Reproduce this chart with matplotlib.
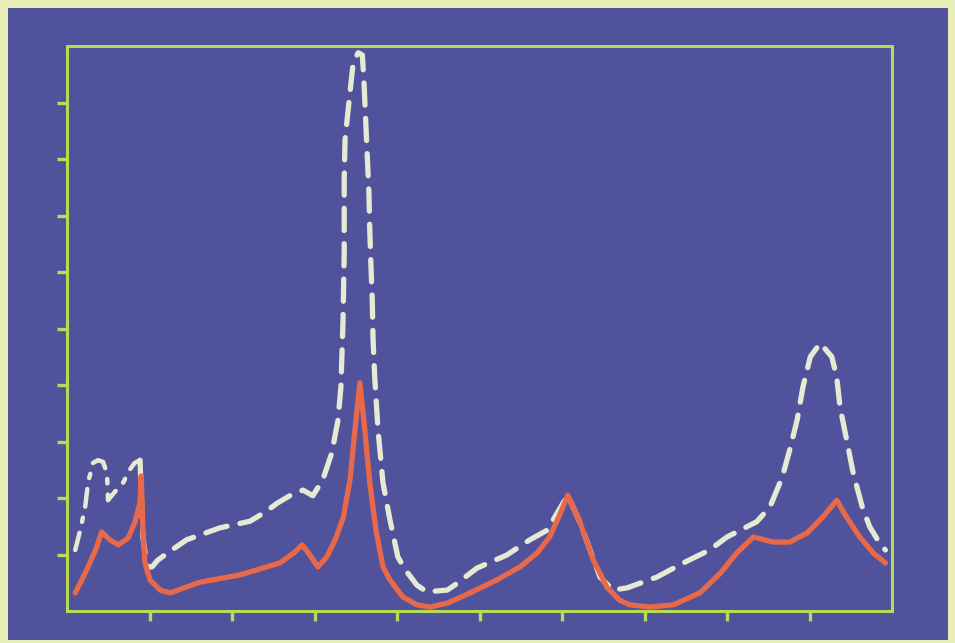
import numpy as np
import matplotlib
matplotlib.use("Agg")
import matplotlib.pyplot as plt
from matplotlib.patches import Rectangle

# readings taken off the hand-drawn chart (x in tick units, y in tick units)
orange_x = [0.10, 0.24, 0.36, 0.42, 0.52, 0.62, 0.74, 0.82, 0.885, 0.90, 0.92, 0.945, 1.006,
            1.13, 1.25, 1.61, 2.10, 2.58, 2.76, 2.85, 2.945, 3.04, 3.15, 3.25, 3.35, 3.43,
            3.49, 3.55, 3.61, 3.67, 3.745, 3.83, 3.915, 4.07, 4.24, 4.40, 4.61, 4.885, 5.21,
            5.49, 5.70, 5.85, 5.98, 6.07, 6.22, 6.38, 6.545, 6.70, 6.82, 7.07, 7.35, 7.67,
            7.92, 8.12, 8.32, 8.56, 8.76, 8.97, 9.16, 9.33, 9.45, 9.61, 9.77, 9.92]
orange_y = [0.32, 0.73, 1.13, 1.40, 1.26, 1.17, 1.29, 1.56, 1.91, 2.39, 1.43, 0.85, 0.55,
            0.37, 0.32, 0.51, 0.64, 0.85, 1.04, 1.17, 0.99, 0.78, 0.96, 1.26, 1.66, 2.32,
            3.20, 4.04, 3.20, 2.27, 1.43, 0.78, 0.55, 0.25, 0.11, 0.07, 0.14, 0.32, 0.55,
            0.78, 1.03, 1.31, 1.73, 2.05, 1.56, 0.90, 0.42, 0.19, 0.11, 0.07, 0.11, 0.32,
            0.67, 1.03, 1.31, 1.22, 1.22, 1.38, 1.66, 1.96, 1.66, 1.31, 1.03, 0.85]

# left part of the white curve is drawn dash-dot, the rest dashed
white_left_x = [0.10, 0.16, 0.22, 0.255, 0.315, 0.376, 0.436, 0.485, 0.497, 0.58, 0.68,
                0.76, 0.82, 0.885]
white_left_y = [1.08, 1.43, 1.84, 2.27, 2.62, 2.67, 2.64, 2.44, 1.96, 2.11, 2.27,
                2.50, 2.62, 2.67]

white_x = [0.885, 0.92, 0.97, 1.03, 1.10, 1.25, 1.45, 1.85, 2.22, 2.40, 2.55, 2.70, 2.86,
           2.98, 3.10, 3.21, 3.285, 3.32, 3.345, 3.36, 3.36, 3.37, 3.42, 3.47, 3.53, 3.58,
           3.60, 3.62, 3.64, 3.66, 3.67, 3.685, 3.70, 3.71, 3.73, 3.77, 3.83, 3.915, 4.01,
           4.10, 4.24, 4.36, 4.61, 4.70, 4.97, 5.33, 5.61, 5.82, 5.94, 6.07, 6.22, 6.34,
           6.46, 6.62, 6.79, 7.15, 7.47, 7.79, 8.00, 8.24, 8.36, 8.52, 8.67, 8.76, 8.85,
           8.92, 9.01, 9.13, 9.27, 9.33, 9.37, 9.45, 9.53, 9.64, 9.73, 9.85, 9.92]
white_y = [2.67, 1.31, 0.78, 0.78, 0.90, 1.06, 1.26, 1.47, 1.59, 1.75, 1.91, 2.04, 2.14,
           2.04, 2.32, 2.80, 3.38, 3.96, 5.10, 6.34, 7.63, 8.34, 9.04, 9.72, 9.88, 9.84,
           9.35, 8.69, 8.04, 7.40, 6.74, 6.09, 5.50, 4.80, 4.14, 3.20, 2.27, 1.61, 0.96,
           0.73, 0.46, 0.34, 0.37, 0.46, 0.76, 0.99, 1.26, 1.43, 1.73, 2.05, 1.56, 1.08,
           0.60, 0.37, 0.41, 0.60, 0.85, 1.08, 1.31, 1.49, 1.58, 1.84, 2.37, 2.85, 3.38,
           3.96, 4.50, 4.74, 4.50, 4.14, 3.61, 3.03, 2.44, 1.84, 1.49, 1.20, 1.08]

ticks = [1, 2, 3, 4, 5, 6, 7, 8, 9]

board = "#50529c"
green = "#b6dc55"
chalk = "#e6ead2"
red = "#e8684a"

fig = plt.figure(figsize=(9.55, 6.43), dpi=100, facecolor="#e8f0b8")

# dark board behind the chart
bg = fig.add_axes([0, 0, 1, 1], zorder=0)
bg.axis("off")
bg.set_xlim(0, 955)
bg.set_ylim(0, 643)
bg.add_patch(Rectangle((8, 3), 940, 632, facecolor=board, edgecolor="none"))

ax = fig.add_axes([67 / 955, 32 / 643, 825 / 955, 565 / 643], zorder=1)
ax.set_facecolor(board)
ax.set_xlim(0, 10)
ax.set_ylim(0, 10)

ax.plot(white_left_x, white_left_y, color=chalk, lw=3.2,
        dashes=(4, 2.5, 1, 2.5), dash_capstyle="round", dash_joinstyle="round")
ax.plot(white_x, white_y, color=chalk, lw=3.8, dashes=(4.2, 2.5),
        dash_capstyle="round", dash_joinstyle="round")
ax.plot(orange_x, orange_y, color=red, lw=3.8, solid_joinstyle="round",
        solid_capstyle="round")

for s in ax.spines.values():
    s.set_color(green)
    s.set_linewidth(2.2)
ax.set_xticks(ticks)
ax.set_yticks(ticks)
ax.set_xticklabels([])
ax.set_yticklabels([])
ax.tick_params(direction="out", length=7, width=2.4, color=green)

fig.savefig("out.png", dpi=100, facecolor=fig.get_facecolor())
